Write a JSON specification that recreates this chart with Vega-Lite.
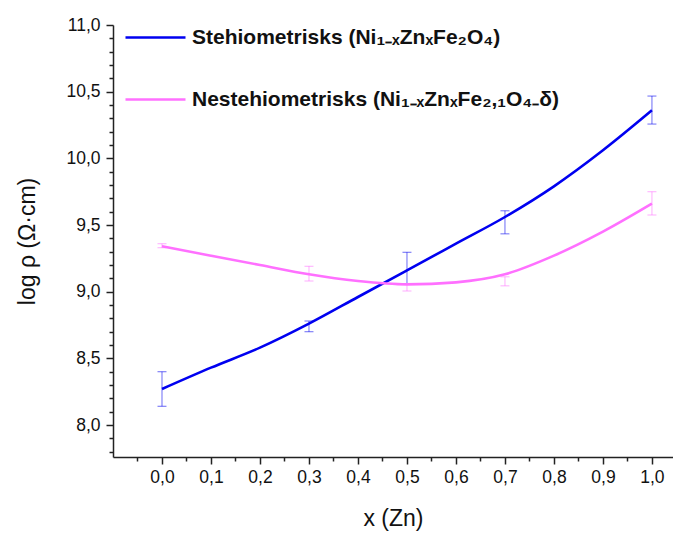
{
  "$schema": "https://vega.github.io/schema/vega-lite/v6.json",
  "width": 560,
  "height": 432,
  "autosize": "none",
  "padding": {"left": 113, "top": 25, "right": 0, "bottom": 76},
  "background": "white",
  "config": {
    "view": {"stroke": null},
    "font": "Liberation Sans"
  },
  "datasets": {
    "curves": [
      {"series": "Stehiometrisks (Ni₁₋ₓZnₓFe₂O₄)", "x": 0.0, "y": 8.27},
      {"series": "Stehiometrisks (Ni₁₋ₓZnₓFe₂O₄)", "x": 0.1, "y": 8.43},
      {"series": "Stehiometrisks (Ni₁₋ₓZnₓFe₂O₄)", "x": 0.2, "y": 8.58},
      {"series": "Stehiometrisks (Ni₁₋ₓZnₓFe₂O₄)", "x": 0.3, "y": 8.76},
      {"series": "Stehiometrisks (Ni₁₋ₓZnₓFe₂O₄)", "x": 0.4, "y": 8.96},
      {"series": "Stehiometrisks (Ni₁₋ₓZnₓFe₂O₄)", "x": 0.5, "y": 9.16},
      {"series": "Stehiometrisks (Ni₁₋ₓZnₓFe₂O₄)", "x": 0.6, "y": 9.36},
      {"series": "Stehiometrisks (Ni₁₋ₓZnₓFe₂O₄)", "x": 0.7, "y": 9.56},
      {"series": "Stehiometrisks (Ni₁₋ₓZnₓFe₂O₄)", "x": 0.8, "y": 9.79},
      {"series": "Stehiometrisks (Ni₁₋ₓZnₓFe₂O₄)", "x": 0.9, "y": 10.06},
      {"series": "Stehiometrisks (Ni₁₋ₓZnₓFe₂O₄)", "x": 1.0, "y": 10.36},
      {"series": "Nestehiometrisks (Ni₁₋ₓZnₓFe₂,₁O₄₋δ)", "x": 0.0, "y": 9.34},
      {"series": "Nestehiometrisks (Ni₁₋ₓZnₓFe₂,₁O₄₋δ)", "x": 0.1, "y": 9.27},
      {"series": "Nestehiometrisks (Ni₁₋ₓZnₓFe₂,₁O₄₋δ)", "x": 0.2, "y": 9.2},
      {"series": "Nestehiometrisks (Ni₁₋ₓZnₓFe₂,₁O₄₋δ)", "x": 0.3, "y": 9.13},
      {"series": "Nestehiometrisks (Ni₁₋ₓZnₓFe₂,₁O₄₋δ)", "x": 0.4, "y": 9.08},
      {"series": "Nestehiometrisks (Ni₁₋ₓZnₓFe₂,₁O₄₋δ)", "x": 0.5, "y": 9.055},
      {"series": "Nestehiometrisks (Ni₁₋ₓZnₓFe₂,₁O₄₋δ)", "x": 0.6, "y": 9.07},
      {"series": "Nestehiometrisks (Ni₁₋ₓZnₓFe₂,₁O₄₋δ)", "x": 0.7, "y": 9.13},
      {"series": "Nestehiometrisks (Ni₁₋ₓZnₓFe₂,₁O₄₋δ)", "x": 0.8, "y": 9.27},
      {"series": "Nestehiometrisks (Ni₁₋ₓZnₓFe₂,₁O₄₋δ)", "x": 0.9, "y": 9.45},
      {"series": "Nestehiometrisks (Ni₁₋ₓZnₓFe₂,₁O₄₋δ)", "x": 1.0, "y": 9.66}
    ],
    "bars": [
      {"series": "Stehiometrisks (Ni₁₋ₓZnₓFe₂O₄)", "x": 0.0, "y": 8.14, "hi": 8.4},
      {"series": "Stehiometrisks (Ni₁₋ₓZnₓFe₂O₄)", "x": 0.3, "y": 8.7, "hi": 8.78},
      {"series": "Stehiometrisks (Ni₁₋ₓZnₓFe₂O₄)", "x": 0.5, "y": 9.06, "hi": 9.295},
      {"series": "Stehiometrisks (Ni₁₋ₓZnₓFe₂O₄)", "x": 0.7, "y": 9.434, "hi": 9.607},
      {"series": "Stehiometrisks (Ni₁₋ₓZnₓFe₂O₄)", "x": 1.0, "y": 10.257, "hi": 10.467},
      {"series": "Nestehiometrisks (Ni₁₋ₓZnₓFe₂,₁O₄₋δ)", "x": 0.0, "y": 9.33, "hi": 9.36},
      {"series": "Nestehiometrisks (Ni₁₋ₓZnₓFe₂,₁O₄₋δ)", "x": 0.3, "y": 9.08, "hi": 9.19},
      {"series": "Nestehiometrisks (Ni₁₋ₓZnₓFe₂,₁O₄₋δ)", "x": 0.5, "y": 9.005, "hi": 9.06},
      {"series": "Nestehiometrisks (Ni₁₋ₓZnₓFe₂,₁O₄₋δ)", "x": 0.7, "y": 9.044, "hi": 9.112},
      {"series": "Nestehiometrisks (Ni₁₋ₓZnₓFe₂,₁O₄₋δ)", "x": 1.0, "y": 9.575, "hi": 9.75}
    ]
  },
  "encoding": {
    "x": {
      "field": "x", "type": "quantitative",
      "scale": {"domain": [-0.1, 1.043], "nice": false, "zero": false},
      "axis": {
        "title": "x (Zn)", "titleFont": "Liberation Sans", "titleFontSize": 23, "titleFontWeight": "normal", "titleColor": "#111", "titlePadding": 22,
        "grid": false, "domainColor": "#222", "domainWidth": 1.5, "tickColor": "#222", "tickWidth": 1.5,
        "values": [-0.05, 0, 0.05, 0.1, 0.15, 0.2, 0.25, 0.3, 0.35, 0.4, 0.45, 0.5, 0.55, 0.6, 0.65, 0.7, 0.75, 0.8, 0.85, 0.9, 0.95, 1.0],
        "labelExpr": "(abs(datum.value*10 - round(datum.value*10)) < 0.001 && datum.value > -0.01) ? replace(format(datum.value, '.1f'), '.', ',') : ''",
        "tickSize": {"condition": {"test": "abs(datum.value*10 - round(datum.value*10)) < 0.001", "value": 7}, "value": 4},
        "labelFont": "Liberation Sans", "labelFontSize": 17.5, "labelColor": "#111", "labelPadding": 4,
        "labelOverlap": false, "labelFlush": false, "labelBound": false
      }
    },
    "y": {
      "field": "y", "type": "quantitative",
      "scale": {"domain": [7.76, 11.0], "nice": false, "zero": false},
      "axis": {
        "title": "log ρ  (Ω·cm)", "titleFont": "Liberation Sans", "titleFontSize": 23, "titleFontWeight": "normal", "titleColor": "#111", "titlePadding": 26,
        "grid": false, "domainColor": "#222", "domainWidth": 1.5, "tickColor": "#222", "tickWidth": 1.5,
        "values": [7.8, 7.9, 8.0, 8.1, 8.2, 8.3, 8.4, 8.5, 8.6, 8.7, 8.8, 8.9, 9.0, 9.1, 9.2, 9.3, 9.4, 9.5, 9.6, 9.7, 9.8, 9.9, 10.0, 10.1, 10.2, 10.3, 10.4, 10.5, 10.6, 10.7, 10.8, 10.9, 11.0],
        "labelExpr": "abs(datum.value*2 - round(datum.value*2)) < 0.001 ? replace(format(datum.value, '.1f'), '.', ',') : ''",
        "tickSize": {"condition": {"test": "abs(datum.value*2 - round(datum.value*2)) < 0.001", "value": 7}, "value": 4},
        "labelFont": "Liberation Sans", "labelFontSize": 17.5, "labelColor": "#111", "labelPadding": 6,
        "labelOverlap": false, "labelFlush": false, "labelBound": false
      }
    },
    "color": {
      "field": "series", "type": "nominal",
      "scale": {"domain": ["Stehiometrisks (Ni₁₋ₓZnₓFe₂O₄)", "Nestehiometrisks (Ni₁₋ₓZnₓFe₂,₁O₄₋δ)"], "range": ["#0000f0", "#ff70ff"]},
      "legend": {"orient": "none", "legendX": 11, "legendY": -19, "title": null, "symbolType": "stroke", "symbolSize": 3600, "symbolStrokeWidth": 2.6, "symbolOpacity": 1, "labelFont": "Liberation Sans", "labelFontWeight": "bold", "labelFontSize": 21, "labelColor": "#111", "labelOffset": 5, "rowPadding": 20, "labelLimit": 0}
    }
  },
  "layer": [
    {
      "data": {"name": "bars"},
      "mark": {"type": "rule", "strokeWidth": 1.3, "opacity": 0.45},
      "encoding": {"y2": {"field": "hi"}}
    },
    {
      "data": {"name": "bars"},
      "mark": {"type": "tick", "orient": "horizontal", "size": 9, "thickness": 1.3, "opacity": 0.45}
    },
    {
      "data": {"name": "bars"},
      "mark": {"type": "tick", "orient": "horizontal", "size": 9, "thickness": 1.3, "opacity": 0.45},
      "encoding": {
        "y": {"field": "hi", "type": "quantitative", "scale": {"domain": [7.76, 11.0], "nice": false, "zero": false},
          "axis": {
            "title": "log ρ  (Ω·cm)", "titleFont": "Liberation Sans", "titleFontSize": 23, "titleFontWeight": "normal", "titleColor": "#111", "titlePadding": 26,
            "grid": false, "domainColor": "#222", "domainWidth": 1.5, "tickColor": "#222", "tickWidth": 1.5,
            "values": [7.8, 7.9, 8.0, 8.1, 8.2, 8.3, 8.4, 8.5, 8.6, 8.7, 8.8, 8.9, 9.0, 9.1, 9.2, 9.3, 9.4, 9.5, 9.6, 9.7, 9.8, 9.9, 10.0, 10.1, 10.2, 10.3, 10.4, 10.5, 10.6, 10.7, 10.8, 10.9, 11.0],
            "labelExpr": "abs(datum.value*2 - round(datum.value*2)) < 0.001 ? replace(format(datum.value, '.1f'), '.', ',') : ''",
            "tickSize": {"condition": {"test": "abs(datum.value*2 - round(datum.value*2)) < 0.001", "value": 7}, "value": 4},
            "labelFont": "Liberation Sans", "labelFontSize": 17.5, "labelColor": "#111", "labelPadding": 6,
            "labelOverlap": false, "labelFlush": false, "labelBound": false
          }
        }
      }
    },
    {
      "data": {"name": "curves"},
      "mark": {"type": "line", "interpolate": "monotone", "strokeWidth": 2.6}
    }
  ]
}
